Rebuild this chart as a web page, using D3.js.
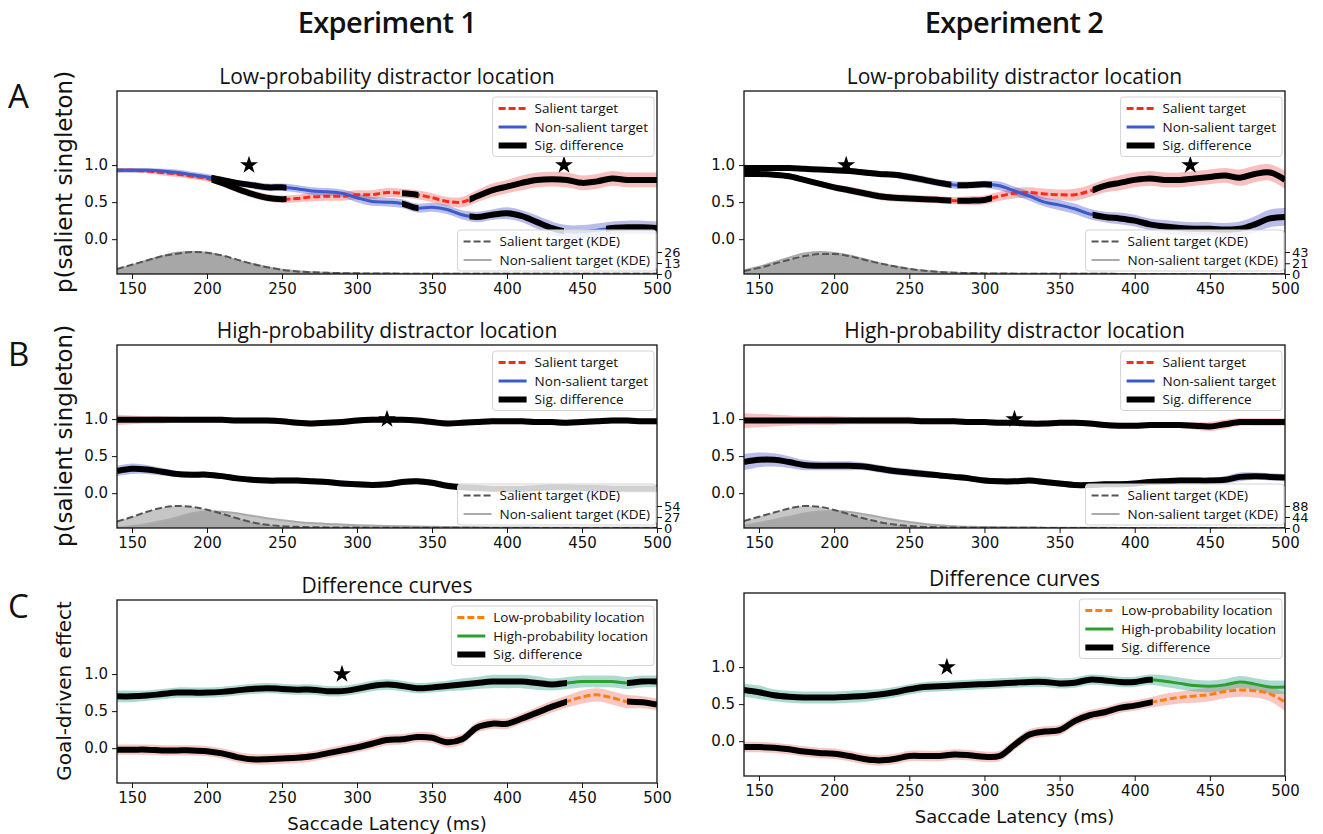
<!DOCTYPE html>
<html>
<head>
<meta charset="utf-8">
<title>Saccade latency curves</title>
<script src="https://d3js.org/d3.v7.min.js"></script>
<style>
  body { margin: 0; background: #fff; }
  .tick text { font-family: "DejaVu Sans", sans-serif; font-size: 15px; fill: #111; }
  .lab { font-family: "Liberation Sans Narrow", "Open Sans", sans-serif; fill: #111; }
  .dv { font-family: "DejaVu Sans", sans-serif; fill: #111; }
</style>
</head>
<body>
<svg id="fig" width="1323" height="834"></svg>
<script>
    // latency grid (ms)
    const latency = [140, 150, 160, 170, 180, 190, 200, 210, 220, 230,
        240, 250, 260, 270, 280, 290, 300, 310, 320, 330,
        340, 350, 360, 370, 380, 390, 400, 410, 420, 430,
        440, 450, 460, 470, 480, 490, 500]
    const xTicks = [150, 200, 250, 300, 350, 400, 450, 500]
    const yTicks = [0, 0.5, 1.0]

    // Experiment 1, low-probability location
    const a1Sal = [.93, .93, .92, .90, .88, .85, .82, .76, .68, .61, .56, .54, .55, .57, .58, .58, .60, .60, .63, .62, .60, .56, .51, .50, .58, .66, .71, .76, .80, .81, .80, .76, .78, .82, .80, .80, .80]
    const a1Non = [.93, .93, .93, .92, .90, .87, .84, .80, .76, .73, .70, .70, .68, .65, .64, .62, .56, .51, .50, .48, .42, .43, .40, .33, .30, .33, .35, .31, .23, .15, .10, .10, .12, .15, .16, .16, .15]
    const a1SalCi = [.03, .03, .03, .04, .04, .04, .04, .05, .05, .05, .05, .05, .05, .06, .06, .06, .06, .06, .06, .06, .06, .06, .06, .07, .08, .09, .09, .10, .10, .10, .10, .10, .10, .10, .10, .10, .10]
    const a1NonCi = [.03, .03, .03, .03, .04, .04, .04, .04, .04, .05, .05, .05, .05, .05, .05, .05, .06, .06, .06, .06, .06, .06, .06, .06, .07, .07, .08, .08, .09, .09, .09, .09, .09, .09, .09, .09, .09]
    const a1SalSig = [[203, 253], [330, 341], [375, 500]]
    const a1NonSig = [[203, 253], [330, 341], [375, 438], [466, 500]]
    const a1KdeSal = [6, 11, 16, 21, 24, 26, 25, 22, 17, 12, 8, 5, 3, 2, 1.4, 1, .8, .6, .5, .4, .4, .3, .3, .3, .2, .2, .2, .2, .2, .2, .2, .2, .2, .2, .2, .2, .2]
    const a1KdeNon = [5, 10, 16, 21, 25, 26, 25, 21, 16, 12, 8, 5, 3.2, 2, 1.4, 1, .8, .6, .5, .4, .4, .3, .3, .3, .2, .2, .2, .2, .2, .2, .2, .2, .2, .2, .2, .2, .2]
    const a1KdeTicks = [0, 13, 26]
    const a1Stars = [228, 438]

    // Experiment 2, low-probability location
    const a2Sal = [.88, .88, .87, .85, .80, .75, .70, .66, .62, .58, .56, .55, .54, .53, .52, .52, .53, .58, .62, .63, .61, .60, .60, .65, .72, .76, .80, .82, .80, .80, .82, .84, .86, .83, .88, .90, .80]
    const a2Non = [.96, .96, .96, .96, .95, .94, .93, .92, .90, .88, .87, .84, .80, .76, .73, .73, .74, .72, .65, .58, .50, .46, .41, .34, .30, .28, .25, .20, .17, .15, .14, .14, .13, .14, .20, .28, .30]
    const a2SalCi = [.03, .03, .03, .04, .04, .04, .04, .05, .05, .05, .05, .05, .05, .05, .05, .06, .06, .06, .07, .07, .07, .07, .08, .08, .09, .10, .10, .10, .10, .10, .10, .10, .10, .11, .11, .11, .12]
    const a2NonCi = [.03, .03, .03, .03, .03, .03, .04, .04, .04, .04, .04, .05, .05, .05, .05, .05, .05, .06, .06, .06, .06, .07, .07, .07, .07, .08, .08, .08, .09, .09, .09, .09, .09, .10, .11, .12, .12]
    const a2Sig = [[140, 278], [282, 305], [372, 500]]
    const a2KdeSal = [6, 12, 20, 28, 35, 39, 39, 35, 28, 21, 15, 10, 6.5, 4, 2.6, 1.8, 1.2, .9, .7, .5, .4, .4, .3, .3, .3, .2, .2, .2, .2, .2, .2, .2, .2, .2, .2, .2, .2]
    const a2KdeNon = [7, 14, 23, 32, 40, 43, 41, 36, 29, 21, 15, 10, 6.5, 4, 2.6, 1.8, 1.2, .9, .7, .5, .4, .4, .3, .3, .3, .2, .2, .2, .2, .2, .2, .2, .2, .2, .2, .2, .2]
    const a2KdeTicks = [0, 21, 43]
    const a2Stars = [208, 437]

    // Experiment 1, high-probability location
    const b1Sal = [.99, .99, .99, .99, .99, .99, .99, .99, .98, .98, .98, .97, .95, .94, .95, .96, .98, .99, .99, .99, .98, .96, .94, .95, .96, .97, .97, .97, .96, .96, .95, .96, .97, .98, .98, .97, .97]
    const b1Non = [.30, .33, .32, .29, .26, .25, .25, .23, .20, .18, .17, .17, .17, .16, .15, .13, .12, .11, .12, .15, .16, .14, .10, .08, .07, .06, .06, .06, .07, .08, .08, .07, .07, .06, .06, .06, .06]
    const b1SalCi = [.07, .06, .05, .05, .04, .04, .04, .04, .04, .04, .04, .04, .04, .04, .04, .04, .04, .04, .04, .04, .04, .04, .04, .04, .04, .04, .04, .04, .04, .04, .04, .04, .04, .04, .04, .04, .04]
    const b1NonCi = [.07, .07, .06, .05, .04, .04, .04, .04, .04, .04, .04, .04, .04, .04, .04, .04, .04, .04, .04, .04, .04, .04, .04, .04, .04, .04, .04, .04, .04, .04, .04, .05, .05, .05, .05, .05, .05]
    const b1Sig = [[140, 500]]
    const b1KdeSal = [16, 27, 40, 50, 54, 52, 45, 35, 24, 14, 8, 4.5, 2.8, 2, 1.5, 1.2, 1, .8, .7, .6, .5, .5, .4, .4, .3, .3, .3, .3, .3, .3, .3, .3, .3, .3, .3, .3, .3]
    const b1KdeNon = [1, 5, 10, 17, 26, 36, 41, 40, 36, 30, 24, 19, 15, 12, 10, 8.5, 7, 6, 5, 4.2, 3.5, 3, 2.5, 2, 1.6, 1.3, 1.1, 1, .9, .8, .8, .7, .6, .6, .5, .5, .5]
    const b1KdeTicks = [0, 27, 54]
    const b1Stars = [320]

    // Experiment 2, high-probability location
    const b2Sal = [.98, .98, .98, .98, .98, .98, .98, .98, .98, .98, .98, .98, .97, .97, .97, .96, .96, .95, .95, .94, .94, .95, .95, .94, .92, .91, .91, .92, .92, .92, .91, .90, .93, .96, .96, .96, .96]
    const b2Non = [.42, .45, .45, .42, .38, .37, .37, .37, .36, .33, .30, .28, .26, .24, .22, .20, .17, .16, .16, .17, .15, .13, .11, .11, .12, .12, .13, .15, .16, .17, .17, .17, .18, .22, .23, .22, .21]
    const b2SalCi = [.10, .09, .08, .07, .06, .06, .06, .05, .05, .05, .05, .05, .04, .04, .04, .04, .04, .04, .04, .04, .04, .04, .04, .04, .04, .04, .04, .04, .04, .04, .05, .06, .06, .05, .05, .05, .05]
    const b2NonCi = [.11, .10, .09, .08, .07, .06, .06, .06, .05, .05, .05, .05, .05, .04, .04, .04, .04, .04, .04, .04, .04, .04, .04, .04, .04, .04, .04, .04, .04, .04, .04, .04, .05, .06, .05, .05, .05]
    const b2Sig = [[140, 500]]
    const b2KdeSal = [28, 45, 62, 78, 88, 85, 72, 55, 38, 24, 14, 8, 4.5, 3, 2, 1.5, 1.1, .9, .7, .6, .5, .4, .4, .3, .3, .3, .3, .2, .2, .2, .2, .2, .2, .2, .2, .2, .2]
    const b2KdeNon = [10, 20, 32, 45, 58, 66, 68, 64, 55, 44, 33, 24, 16, 11, 7, 5, 4, 3, 2.4, 2, 1.5, 1.2, 1, .8, .6, .5, .4, .4, .3, .3, .3, .3, .3, .3, .3, .3, .3]
    const b2KdeTicks = [0, 44, 88]
    const b2Stars = [320]

    // difference curves
    const c1Low = [-.02, -.02, -.02, -.03, -.03, -.03, -.04, -.07, -.12, -.15, -.15, -.14, -.13, -.11, -.07, -.03, .01, .06, .11, .12, .15, .14, .08, .12, .28, .33, .33, .40, .48, .56, .63, .69, .72, .68, .63, .62, .59]
    const c1High = [.70, .70, .71, .73, .75, .75, .75, .76, .78, .80, .81, .80, .79, .79, .77, .77, .80, .84, .86, .84, .81, .82, .84, .86, .88, .90, .90, .90, .88, .86, .88, .90, .90, .90, .88, .90, .90]
    const c1LowCi = [.07, .07, .07, .07, .07, .07, .07, .07, .07, .07, .07, .07, .07, .07, .07, .07, .07, .07, .07, .07, .07, .07, .07, .07, .07, .07, .07, .07, .08, .08, .08, .09, .09, .09, .09, .08, .08]
    const c1HighCi = [.08, .08, .07, .07, .07, .07, .07, .07, .07, .07, .07, .07, .07, .07, .07, .07, .07, .07, .07, .07, .07, .07, .07, .08, .08, .09, .09, .09, .09, .08, .08, .08, .08, .08, .08, .08, .08]
    const c1Sig = [[140, 440], [480, 500]]
    const c1Stars = [290]

    const c2Low = [-.08, -.08, -.09, -.11, -.14, -.16, -.17, -.20, -.24, -.26, -.24, -.20, -.20, -.20, -.18, -.19, -.21, -.20, -.05, .09, .13, .15, .27, .35, .39, .45, .48, .52, .56, .59, .61, .63, .67, .69, .68, .64, .53]
    const c2High = [.69, .66, .62, .60, .59, .59, .59, .60, .61, .63, .66, .70, .73, .74, .75, .76, .77, .78, .79, .80, .80, .78, .79, .83, .82, .80, .80, .83, .81, .78, .75, .74, .76, .80, .77, .73, .73]
    const c2LowCi = [.07, .07, .07, .07, .07, .07, .07, .07, .07, .07, .07, .07, .07, .07, .07, .07, .07, .07, .07, .07, .07, .07, .07, .07, .07, .07, .07, .07, .08, .08, .09, .09, .09, .09, .09, .10, .12]
    const c2HighCi = [.09, .09, .08, .08, .08, .08, .08, .08, .08, .07, .07, .07, .07, .07, .07, .07, .07, .07, .07, .07, .07, .07, .07, .07, .07, .07, .07, .07, .08, .08, .08, .08, .08, .08, .08, .09, .09]
    const c2Sig = [[140, 412]]
    const c2Stars = [275]

    const RED = "#ff2a1a", BLUE = "#3a5bcc", ORANGE = "#ff7f0e", GREEN = "#2ca02c"

    const legendAB = [
        { label: "Salient target", color: RED, dash: "7,3", w: 3 },
        { label: "Non-salient target", color: BLUE, w: 3 },
        { label: "Sig. difference", color: "#000", w: 6 }
    ]
    const legendC = [
        { label: "Low-probability location", color: ORANGE, dash: "7,3", w: 3 },
        { label: "High-probability location", color: GREEN, w: 3 },
        { label: "Sig. difference", color: "#000", w: 6 }
    ]
    const legendKde = [
        { label: "Salient target (KDE)", color: "#555", dash: "7,3", w: 2 },
        { label: "Non-salient target (KDE)", color: "#aaa", w: 2 }
    ]

    function salSeries(v, ci, sig) { return { values: v, ci: ci, sig: sig, color: RED, band: "#ee3b3b", bandOp: 0.33, dash: "7,3" } }
    function nonSeries(v, ci, sig) { return { values: v, ci: ci, sig: sig, color: BLUE, band: "#4a4fc4", bandOp: 0.38 } }

    const panels = [
        { x0: 117, x1: 657, y0: 91, title: "Low-probability distractor location", legend: legendAB,
          series: [salSeries(a1Sal, a1SalCi, a1SalSig), nonSeries(a1Non, a1NonCi, a1NonSig)],
          kde: [a1KdeSal, a1KdeNon], kdeTicks: a1KdeTicks, stars: a1Stars },
        { x0: 744, x1: 1285, y0: 91, title: "Low-probability distractor location", legend: legendAB,
          series: [salSeries(a2Sal, a2SalCi, a2Sig), nonSeries(a2Non, a2NonCi, a2Sig)],
          kde: [a2KdeSal, a2KdeNon], kdeTicks: a2KdeTicks, stars: a2Stars },
        { x0: 117, x1: 657, y0: 345, title: "High-probability distractor location", legend: legendAB,
          series: [salSeries(b1Sal, b1SalCi, b1Sig), nonSeries(b1Non, b1NonCi, b1Sig)],
          kde: [b1KdeSal, b1KdeNon], kdeTicks: b1KdeTicks, stars: b1Stars },
        { x0: 744, x1: 1285, y0: 345, title: "High-probability distractor location", legend: legendAB,
          series: [salSeries(b2Sal, b2SalCi, b2Sig), nonSeries(b2Non, b2NonCi, b2Sig)],
          kde: [b2KdeSal, b2KdeNon], kdeTicks: b2KdeTicks, stars: b2Stars },
        { x0: 117, x1: 657, y0: 600, title: "Difference curves", legend: legendC, xlabel: true,
          series: [
              { values: c1Low, ci: c1LowCi, sig: c1Sig, color: ORANGE, band: "#f07a70", bandOp: 0.42, dash: "7,3" },
              { values: c1High, ci: c1HighCi, sig: c1Sig, color: GREEN, band: "#3aa88e", bandOp: 0.42 }],
          stars: c1Stars },
        { x0: 744, x1: 1285, y0: 593, title: "Difference curves", legend: legendC, xlabel: true,
          series: [
              { values: c2Low, ci: c2LowCi, sig: c2Sig, color: ORANGE, band: "#f07a70", bandOp: 0.42, dash: "7,3" },
              { values: c2High, ci: c2HighCi, sig: c2Sig, color: GREEN, band: "#3aa88e", bandOp: 0.42 }],
          stars: c2Stars }
    ]

    const H = 183
    const svg = d3.select("#fig")
    svg.append("rect").attr("width", 1323).attr("height", 834).attr("fill", "#fff")
    const defs = svg.append("defs")

    function drawLegend(g, items, right, top, bottom) {
        const lg = g.append("g")
        const frame = lg.append("rect")
        const texts = items.map(it => lg.append("text").attr("class", "lab").style("font-size", "13.5px").text(it.label))
        const tw = d3.max(texts, t => t.node().getComputedTextLength())
        const W = 42 + tw + 6, Hh = items.length * 18.5 + 4
        const left = right - W
        if (top == null) top = bottom - Hh
        frame.attr("x", left).attr("y", top).attr("width", W).attr("height", Hh).attr("rx", 3)
            .attr("fill", "#fff").attr("fill-opacity", 0.82).attr("stroke", "#d3d3d3")
        items.forEach((it, i) => {
            const cy = top + 11.5 + i * 18.5
            lg.append("line").attr("x1", left + 6).attr("x2", left + 34).attr("y1", cy).attr("y2", cy)
                .attr("stroke", it.color).attr("stroke-width", it.w).attr("stroke-dasharray", it.dash || null)
            texts[i].attr("x", left + 42).attr("y", cy + 4.5)
        })
    }

    panels.forEach((p, idx) => {
        const yb = p.y0 + H
        const x = d3.scaleLinear().domain([140, 500]).range([p.x0, p.x1])
        const y = d3.scaleLinear().domain([-0.47, 2.0]).range([yb, p.y0])
        const g = svg.append("g")

        defs.append("clipPath").attr("id", "clip" + idx).append("rect")
            .attr("x", p.x0).attr("y", p.y0).attr("width", p.x1 - p.x0).attr("height", H)
        const plot = g.append("g").attr("clip-path", `url(#clip${idx})`)

        // KDE on twin axis
        if (p.kde) {
            const k = d3.scaleLinear().domain([0, p.kdeTicks[2]]).range([yb, yb - 22])
            const area = d3.area().x((d, i) => x(latency[i])).y0(yb).y1(d => k(d)).curve(d3.curveMonotoneX)
            const kline = d3.line().x((d, i) => x(latency[i])).y(d => k(d)).curve(d3.curveMonotoneX)
            p.kde.forEach(v => plot.append("path").datum(v).attr("d", area).attr("fill", "#808080").attr("fill-opacity", 0.45))
            plot.append("path").datum(p.kde[1]).attr("d", kline).attr("fill", "none").attr("stroke", "#aaa").attr("stroke-width", 2)
            plot.append("path").datum(p.kde[0]).attr("d", kline).attr("fill", "none").attr("stroke", "#555")
                .attr("stroke-width", 2).attr("stroke-dasharray", "7,3")
            const ka = g.append("g").attr("transform", `translate(${p.x1},0)`)
                .call(d3.axisRight(k).tickValues(p.kdeTicks).tickFormat(d3.format("d")).tickSize(5).tickPadding(2))
            ka.select(".domain").remove()
            ka.selectAll(".tick line").attr("stroke", "#111")
            ka.selectAll(".tick text").style("font-size", "13px")
        }

        const band = d3.area().x((d, i) => x(latency[i])).y0(d => y(d[0] - d[1])).y1(d => y(d[0] + d[1])).curve(d3.curveCatmullRom)
        const line = d3.line().x((d, i) => x(latency[i])).y(d => y(d)).curve(d3.curveCatmullRom)

        p.series.forEach(s => plot.append("path").datum(s.values.map((v, i) => [v, s.ci[i]])).attr("d", band)
            .attr("fill", s.band).attr("fill-opacity", s.bandOp))
        p.series.forEach(s => plot.append("path").datum(s.values).attr("d", line).attr("fill", "none")
            .attr("stroke", s.color).attr("stroke-width", 3).attr("stroke-dasharray", s.dash || null))
        // significant stretches in thick black
        p.series.forEach((s, si) => s.sig.forEach((iv, k) => {
            const id = `sig${idx}_${si}_${k}`
            defs.append("clipPath").attr("id", id).append("rect")
                .attr("x", x(iv[0])).attr("y", p.y0).attr("width", x(iv[1]) - x(iv[0])).attr("height", H)
            plot.append("g").attr("clip-path", `url(#${id})`).append("path").datum(s.values).attr("d", line)
                .attr("fill", "none").attr("stroke", "#000").attr("stroke-width", 6)
        }))

        g.selectAll(".star").data(p.stars).join("path").attr("class", "star")
            .attr("d", d3.symbol(d3.symbolStar, 100)).attr("transform", d => `translate(${x(d)},${y(1)})`).attr("fill", "#000")

        // axes + frame
        const xa = g.append("g").attr("transform", `translate(0,${yb})`)
            .call(d3.axisBottom(x).tickValues(xTicks).tickSize(5).tickPadding(4))
        const ya = g.append("g").attr("transform", `translate(${p.x0},0)`)
            .call(d3.axisLeft(y).tickValues(yTicks).tickFormat(d3.format(".1f")).tickSize(5).tickPadding(4))
        ;[xa, ya].forEach(a => { a.select(".domain").remove(); a.selectAll(".tick line").attr("stroke", "#111") })
        g.append("rect").attr("x", p.x0).attr("y", p.y0).attr("width", p.x1 - p.x0).attr("height", H)
            .attr("fill", "none").attr("stroke", "#111").attr("stroke-width", 1.3)

        g.append("text").attr("class", "lab").attr("x", (p.x0 + p.x1) / 2).attr("y", p.y0 - 7)
            .attr("text-anchor", "middle").style("font-size", "21px").text(p.title)

        drawLegend(g, p.legend, p.x1 - 3, p.y0 + 6, null)
        if (p.kde) drawLegend(g, legendKde, p.x1 - 1, null, yb - 3)

        if (p.xlabel) g.append("text").attr("class", "dv").attr("x", (p.x0 + p.x1) / 2).attr("y", yb + 47)
            .attr("text-anchor", "middle").style("font-size", "18px").text("Saccade Latency (ms)")
    })

    // column headings, row letters, y labels
    ;[["Experiment 1", 387], ["Experiment 2", 1014]].forEach(d => svg.append("text").attr("class", "lab")
        .attr("x", d[1]).attr("y", 33).attr("text-anchor", "middle").style("font-size", "29px")
        .style("font-weight", 600).style("letter-spacing", "-0.6px").text(d[0]))
    ;[["A", 108], ["B", 366], ["C", 618]].forEach(d => svg.append("text").attr("class", "lab")
        .attr("x", 8).attr("y", d[1]).style("font-size", "33px").text(d[0]))
    ;[["p(salient singleton)", 182, 23], ["p(salient singleton)", 436, 23], ["Goal-driven effect", 691, 20]].forEach(d =>
        svg.append("text").attr("class", "dv").attr("transform", `translate(64,${d[1]}) rotate(-90)`)
            .attr("text-anchor", "middle").attr("dominant-baseline", "central").style("font-size", d[2] + "px").text(d[0]))
</script>
</body>
</html>
